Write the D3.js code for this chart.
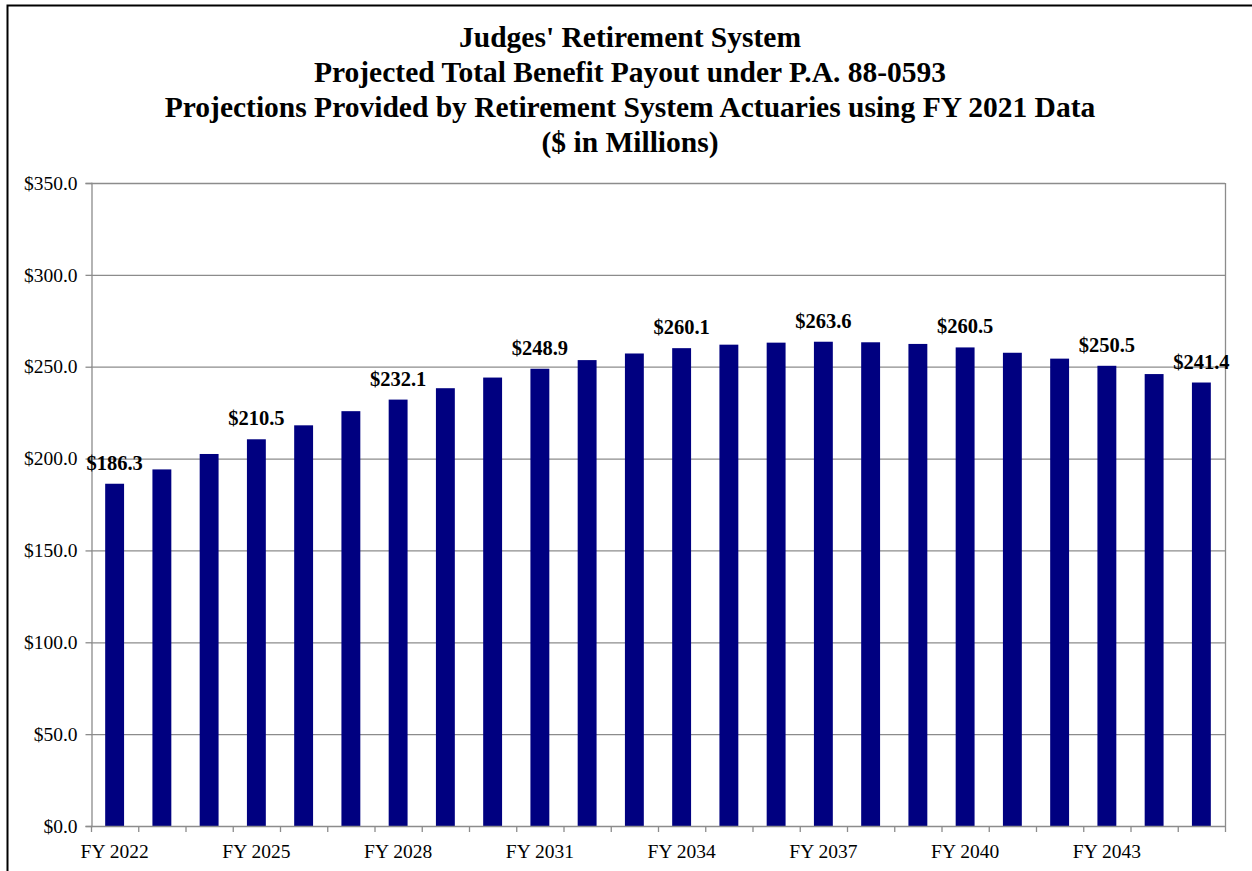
<!DOCTYPE html>
<html><head><meta charset="utf-8">
<script src="https://cdn.jsdelivr.net/npm/d3@7"></script>
<style>
html,body{margin:0;padding:0;background:#fff;}
svg{display:block;}
text{font-family:"Liberation Serif","Times New Roman",serif;}
</style></head>
<body>
<svg id="chart" width="1252" height="871"></svg>
<script>
const titleLines = [
  "Judges' Retirement System",
  "Projected Total Benefit Payout under P.A. 88-0593",
  "Projections Provided by Retirement System Actuaries using FY 2021 Data",
  "($ in Millions)"
];
const years = [2022,2023,2024,2025,2026,2027,2028,2029,2030,2031,2032,2033,
               2034,2035,2036,2037,2038,2039,2040,2041,2042,2043,2044,2045];
const categories = years.map(y => "FY " + y);
const payouts = [186.3,194.1,202.5,210.5,218.1,225.8,232.1,238.3,244.1,248.9,253.6,257.2,
                 260.1,262.0,263.1,263.6,263.3,262.4,260.5,257.6,254.4,250.5,246.0,241.4];
const labeledYears = [2022,2025,2028,2031,2034,2037,2040,2043,2045];
const tickYears = [2022,2025,2028,2031,2034,2037,2040,2043];
const yTicks = [0,50,100,150,200,250,300,350];

const svg = d3.select("#chart");
const plot = {left:91, right:1225, top:183, bottom:826};

// outer chart border
svg.append("path")
  .attr("d", `M7.5,871 L7.5,5.5 L1252,5.5`)
  .attr("fill","none").attr("stroke","#000").attr("stroke-width",2);

// title
svg.append("g").selectAll("text").data(titleLines).join("text")
  .attr("x", 630).attr("y", (d,i) => 47 + i*35)
  .attr("text-anchor","middle")
  .attr("font-weight","bold").attr("font-size","29.5px")
  .text(d => d);

const x = d3.scaleBand().domain(categories).range([plot.left, plot.right])
  .paddingInner(0.6).paddingOuter(0.3);
const xb = d3.scaleBand().domain(categories).range([plot.left, plot.right]);
const y = d3.scaleLinear().domain([0,350]).range([plot.bottom, plot.top]);

// gridlines
svg.append("g").selectAll("line").data(yTicks.filter(t => t>0)).join("line")
  .attr("x1", plot.left).attr("x2", plot.right)
  .attr("y1", d => y(d)+0.5).attr("y2", d => y(d)+0.5)
  .attr("stroke","#8c8c8c").attr("stroke-width",1.3);

// plot right border
svg.append("line").attr("x1",plot.right+0.5).attr("x2",plot.right+0.5)
  .attr("y1",plot.top).attr("y2",plot.bottom)
  .attr("stroke","#8c8c8c").attr("stroke-width",1.3);

// bars
svg.append("g").selectAll("rect").data(payouts).join("rect")
  .attr("x", (d,i) => x(categories[i]))
  .attr("width", x.bandwidth())
  .attr("y", d => y(d))
  .attr("height", d => y(0) - y(d))
  .attr("fill","#000080");

// y axis
const yAxis = d3.axisLeft(y).tickValues(yTicks).tickSize(6).tickPadding(8)
  .tickFormat(d => "$" + d3.format(".1f")(d));
const gy = svg.append("g").attr("transform",`translate(${plot.left+0.5},0)`).call(yAxis);
gy.selectAll("path,line").attr("stroke","#8c8c8c").attr("stroke-width",1.3);
gy.selectAll("text").attr("font-size","19.5px").attr("fill","#000")
  .attr("font-family","Liberation Serif, serif");

// x axis: ticks at category boundaries
const boundaries = categories.map(c => xb(c)).concat([plot.right]);
const gx = svg.append("g");
gx.append("line").attr("x1",plot.left).attr("x2",plot.right)
  .attr("y1",plot.bottom+0.5).attr("y2",plot.bottom+0.5)
  .attr("stroke","#8c8c8c").attr("stroke-width",1.3);
gx.selectAll("line.tick").data(boundaries).join("line").attr("class","tick")
  .attr("x1", d => d+0.5).attr("x2", d => d+0.5)
  .attr("y1", plot.bottom).attr("y2", plot.bottom+6)
  .attr("stroke","#8c8c8c").attr("stroke-width",1.3);
gx.selectAll("text").data(tickYears).join("text")
  .attr("x", d => xb("FY "+d) + xb.bandwidth()/2)
  .attr("y", plot.bottom + 32)
  .attr("text-anchor","middle").attr("font-size","19.5px")
  .text(d => "FY " + d);

// data labels
const labelData = payouts.map((v,i) => ({v, cat: categories[i], yr: years[i]}))
  .filter(d => labeledYears.includes(d.yr));
svg.append("g").selectAll("text").data(labelData).join("text")
  .attr("x", d => x(d.cat) + x.bandwidth()/2)
  .attr("y", d => y(d.v) - 14)
  .attr("text-anchor","middle").attr("font-weight","bold").attr("font-size","20.5px")
  .text(d => "$" + d.v.toFixed(1));
</script>
</body></html>
